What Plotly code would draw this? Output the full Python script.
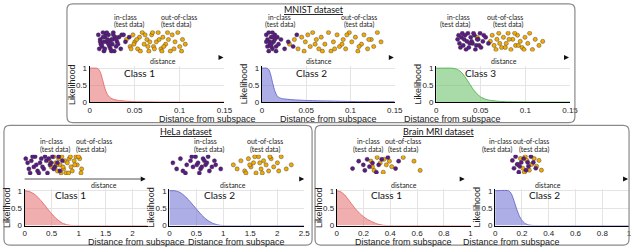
import plotly.graph_objects as go

W, H = 640, 252

# ---------------- data ----------------
# likelihood curves
m1_x = [0, 0.008, 0.010, 0.012, 0.014, 0.016, 0.018, 0.020, 0.023, 0.027, 0.032, 0.040, 0.050, 0.060, 0.080, 0.150]
m1_y = [1, 1, 0.97, 0.88, 0.70, 0.50, 0.33, 0.22, 0.13, 0.08, 0.05, 0.03, 0.015, 0.008, 0.002, 0]
m2_x = [0, 0.006, 0.008, 0.010, 0.012, 0.014, 0.016, 0.018, 0.022, 0.027, 0.035, 0.050, 0.070, 0.090, 0.110, 0.150]
m2_y = [1, 1, 0.95, 0.80, 0.58, 0.38, 0.24, 0.16, 0.11, 0.09, 0.07, 0.05, 0.035, 0.025, 0.015, 0.01]
m3_x = [0, 0.018, 0.022, 0.026, 0.030, 0.034, 0.038, 0.042, 0.046, 0.050, 0.055, 0.060, 0.070, 0.080, 0.100, 0.150]
m3_y = [1, 1, 0.98, 0.93, 0.83, 0.68, 0.52, 0.36, 0.24, 0.15, 0.09, 0.055, 0.025, 0.01, 0.003, 0]
h1_x = [0, 0.1, 0.2, 0.3, 0.4, 0.5, 0.6, 0.7, 0.8, 0.9, 2.28]
h1_y = [1, 0.97, 0.88, 0.72, 0.53, 0.34, 0.18, 0.07, 0.02, 0, 0]
h2_x = [0, 0.1, 0.2, 0.3, 0.4, 0.5, 0.6, 0.7, 0.8, 0.9, 1.0, 2.5]
h2_y = [1, 1, 0.95, 0.83, 0.66, 0.48, 0.30, 0.16, 0.07, 0.02, 0, 0]
b1_x = [0, 0.03, 0.06, 0.10, 0.14, 0.18, 0.22, 0.26, 0.30, 0.35, 0.40, 1.0]
b1_y = [1, 0.97, 0.88, 0.68, 0.48, 0.32, 0.20, 0.12, 0.05, 0.01, 0, 0]
b2_x = [0, 0.10, 0.12, 0.14, 0.16, 0.18, 0.20, 0.22, 0.25, 0.30, 1.0]
b2_y = [1, 1, 0.92, 0.72, 0.48, 0.28, 0.15, 0.07, 0.02, 0, 0]

# scatter (test data) points, arbitrary distance units
s1_in_x = [3,5,6,8,10,12,14,15,17,19,21,23,4,7,9,11,13,16,18,20,22,25,5,8,10,12,15,17,19,24,28,32,36,6,9,14,18,22,27,30]
s1_in_y = [8,6,4,9,7,5,8,3,6,9,7,5,2,3,1,8,6,2,4,1,3,7,5,7,2,9,5,1,8,4,8,5,7,4,5,4,6,6,2,8]
s1_out_x = [33,37,40,42,45,47,50,52,55,57,60,62,65,67,70,72,75,78,80,82,85,88,90,93,96,38,44,48,53,58,63,68,73,77,84,92,41,56,61,71]
s1_out_y = [6,3,8,5,2,7,9,4,6,1,8,3,5,9,2,7,4,6,1,8,5,9,3,6,4,2,6,1,8,5,2,6,3,9,2,1,4,3,9,1]
s2_in_x = [2,3,4,5,6,7,8,9,10,3,5,7,9,11,4,6,8,10,12,2,6,14,17,20,24,27]
s2_in_y = [8,6,9,4,7,2,5,8,3,3,5,9,6,7,1,3,7,1,4,5,4,6,2,5,3,8]
s2_out_x = [21,25,28,31,34,36,38,40,43,45,47,50,53,55,57,60,62,65,67,70,72,75,77,80,82,85,88,90,93,96,42,58,68,78,86,33,48,64]
s2_out_y = [4,6,2,7,5,8,3,9,6,2,7,4,9,1,5,8,3,6,2,9,5,7,1,4,8,2,6,3,9,5,4,2,8,3,6,1,1,4]
s3_in_x = [3,5,7,9,11,13,15,17,19,21,23,25,27,30,33,36,6,10,14,18,22,26,8,12,16,20,24,4,28,31]
s3_in_y = [6,4,7,3,8,5,2,7,4,8,3,6,9,5,7,4,2,6,9,5,1,3,9,1,4,9,6,8,2,8]
s3_out_x = [38,40,42,45,47,50,52,55,57,60,62,65,67,70,72,75,78,80,83,86,90,94,44,54,64,74,58,68,48,24]
s3_out_y = [5,8,3,6,9,2,7,4,9,1,6,3,8,5,2,7,4,9,1,6,3,5,1,2,9,1,6,3,4,7]
s4_in_x = [5,8,10,14,18,20,24,28,30,34,38,40,44,48,52,56,60,64,12,22,32,42,50,58,16,26,36,46]
s4_in_y = [8,6,3,7,4,9,2,6,8,3,7,1,5,9,4,6,2,7,1,5,4,8,3,9,9,1,9,6]
s4_out_x = [43,46,50,53,56,58,60,63,66,68,70,72,75,78,80,83,86,88,92,95,62,74,84,90,55,65,77,94]
s4_out_y = [7,4,9,6,2,8,5,9,3,7,1,6,8,4,2,7,9,5,8,3,1,1,5,9,5,4,9,1]
s5_in_x = [2,5,8,10,13,16,18,20,22,24,26,28,30,33,36,40,12,17,23,27,31,35,21,25,29]
s5_in_y = [6,3,8,2,5,7,4,9,6,3,8,5,9,4,5,3,1,9,1,7,2,7,5,4,6]
s5_out_x = [50,53,56,59,62,64,66,68,70,72,74,76,78,80,82,85,88,92,96,60,67,73,79,86,63,71]
s5_out_y = [5,3,7,2,8,4,6,1,9,3,7,5,2,8,4,6,9,3,5,1,9,1,9,2,5,6]
s6_in_x = [4,12,18,20,23,26,30,35,42,50,60,64,38]
s6_in_y = [3,7,5,2,8,4,6,1,8,9,3,7,5]
s6_out_x = [28,32,36,40,45,48,52,55,70,84,92,30,44]
s6_out_y = [7,2,9,6,8,5,7,4,9,7,2,4,1]
s7_in_x = [6,10,14,18,22,28,34,40,46,52,58,64,24,44]
s7_in_y = [7,3,9,5,1,6,8,2,4,9,6,3,4,6]
s7_out_x = [20,26,32,38,42,48,54,60,66,72,78,36]
s7_out_y = [5,8,3,9,7,2,5,8,4,7,2,1]

class_labels = ["Class 1", "Class 2", "Class 3", "Class 1", "Class 2", "Class 1", "Class 2"]
dataset_titles = ["MNIST dataset", "HeLa dataset", "Brain MRI dataset"]
mnist_ticks = [0, 0.05, 0.1, 0.15]
hela1_ticks = [0, 0.5, 1, 1.5, 2]
hela2_ticks = [0, 0.5, 1, 1.5, 2, 2.5]
brain_ticks = [0, 0.2, 0.4, 0.6, 0.8, 1]
y_ticks = [0, 0.5, 1]

# ---------------- layout helpers ----------------
def fx(x):
    return x / W

def fy(y):
    return 1 - y / H

RED = ("rgba(232,120,120,0.6)", "#e07272")
BLUE = ("rgba(120,120,215,0.6)", "#7070cc")
GREEN = ("rgba(110,195,110,0.6)", "#5eb45e")
PURPLE = "#5b1a86"
ORANGE = "#f2a900"

curves = [
    (m1_x, m1_y, RED, (89, 226, 66, 103), [0, 0.15], mnist_ticks, ["0", "0.05", "0.1", "0.15"]),
    (m2_x, m2_y, BLUE, (264, 399, 66, 103), [0, 0.15], mnist_ticks, ["0", "0.05", "0.1", "0.15"]),
    (m3_x, m3_y, GREEN, (441, 577, 66, 103), [0, 0.15], mnist_ticks, ["0", "0.05", "0.1", "0.15"]),
    (h1_x, h1_y, RED, (23, 148, 192, 230), [0, 2.28], hela1_ticks, ["0", "0.5", "1", "1.5", "2"]),
    (h2_x, h2_y, BLUE, (170, 307, 192, 230), [0, 2.5], hela2_ticks, ["0", "0.5", "1", "1.5", "2", "2.5"]),
    (b1_x, b1_y, RED, (340, 476, 192, 230), [0, 1], brain_ticks, ["0", "0.2", "0.4", "0.6", "0.8", "1"]),
    (b2_x, b2_y, BLUE, (501, 637, 192, 230), [0, 1], brain_ticks, ["0", "0.2", "0.4", "0.6", "0.8", "1"]),
]

scatters = [
    (s1_in_x, s1_in_y, s1_out_x, s1_out_y, (95, 190, 29, 53)),
    (s2_in_x, s2_in_y, s2_out_x, s2_out_y, (266, 390, 29, 53)),
    (s3_in_x, s3_in_y, s3_out_x, s3_out_y, (460, 555, 30, 51)),
    (s4_in_x, s4_in_y, s4_out_x, s4_out_y, (21, 84, 157, 178)),
    (s5_in_x, s5_in_y, s5_out_x, s5_out_y, (171, 299, 157, 178)),
    (s6_in_x, s6_in_y, s6_out_x, s6_out_y, (353, 431, 158, 177)),
    (s7_in_x, s7_in_y, s7_out_x, s7_out_y, (516, 557, 157, 177)),
]

fig = go.Figure()
layout = {}
annotations = []
shapes = []

AXFONT = dict(family="Liberation Sans, Arial, sans-serif", size=8, color="#222")
TXT = "Lato, Open Sans, sans-serif"

n = 0
for i, (cx, cy, col, box, xr, tv, tt) in enumerate(curves):
    n += 1
    sfx = "" if n == 1 else str(n)
    l, r, t, b = box
    fig.add_trace(go.Scatter(x=cx, y=cy, mode="lines", line=dict(color=col[1], width=1, shape="spline", smoothing=0.6),
                             fill="tozeroy", fillcolor=col[0], xaxis="x" + sfx, yaxis="y" + sfx,
                             showlegend=False, hoverinfo="skip"))
    layout["xaxis" + sfx] = dict(domain=[fx(l), fx(r)], anchor="y" + sfx, range=xr, tickvals=tv, ticktext=tt,
                                 showgrid=True, gridcolor="#e4e4e4", gridwidth=1, zeroline=False,
                                 showline=True, linecolor="#000", linewidth=1, ticks="", tickfont=AXFONT,
                                 fixedrange=True)
    layout["yaxis" + sfx] = dict(domain=[fy(b), fy(t)], anchor="x" + sfx, range=[0, 1.06], tickvals=y_ticks,
                                 ticktext=["0", "0.5", "1"], showgrid=True, gridcolor="#e4e4e4", zeroline=False,
                                 showline=True, linecolor="#000", linewidth=1, ticks="", tickfont=AXFONT,
                                 fixedrange=True)
    # class label
    annotations.append(dict(x=fx(l + 0.37 * (r - l) if i != 2 else l + 0.33 * (r - l)), y=fy(t + 7),
                            xref="paper", yref="paper", text=class_labels[i], showarrow=False,
                            font=dict(family=TXT, size=10, color="#111"), xanchor="center", yanchor="middle"))
    # axis titles
    annotations.append(dict(x=fx((l + r) / 2), y=fy(b + 17), xref="paper", yref="paper",
                            text="Distance from subspace", showarrow=False,
                            font=dict(family=AXFONT["family"], size=9, color="#222"), yanchor="middle"))
    annotations.append(dict(x=fx(l - 18), y=fy((t + b) / 2), xref="paper", yref="paper",
                            text="Likelihood", showarrow=False, textangle=-90,
                            font=dict(family=AXFONT["family"], size=9, color="#222"), xanchor="center", yanchor="middle"))

for j, (ix, iy, ox, oy, box) in enumerate(scatters):
    n += 1
    sfx = str(n)
    l, r, t, b = box
    for xs, ys, c in ((ox, oy, ORANGE), (ix, iy, PURPLE)):
        fig.add_trace(go.Scatter(x=xs, y=ys, mode="markers",
                                 marker=dict(color=c, size=4.2, line=dict(color="#333", width=0.4)),
                                 xaxis="x" + sfx, yaxis="y" + sfx, showlegend=False, hoverinfo="skip"))
    layout["xaxis" + sfx] = dict(domain=[fx(l), fx(r)], anchor="y" + sfx, range=[0, 100], visible=False, fixedrange=True)
    layout["yaxis" + sfx] = dict(domain=[fy(b), fy(t)], anchor="x" + sfx, range=[0, 10], visible=False, fixedrange=True)

# in-class / out-of-class labels: (x_in, x_out, y_top)
label_pos = [(112, 159, 15), (282, 363, 15), (477, 531, 15),
             (37, 73, 143), (193, 267, 143), (372, 407, 143), (520, 558, 143)]
for (xi, xo, yt) in label_pos:
    for xx, lab in ((xi, "in-class"), (xo, "out-of-class")):
        annotations.append(dict(x=fx(xx), y=fy(yt), xref="paper", yref="paper", text=lab, showarrow=False,
                                font=dict(family=TXT, size=7, color="#222"), yanchor="middle"))
        annotations.append(dict(x=fx(xx), y=fy(yt + 8.5), xref="paper", yref="paper", text="(test data)",
                                showarrow=False, font=dict(family=TXT, size=7, color="#222"), yanchor="middle"))

# distance arrows: (label x, arrow end x, y)
arrows = [(148, 225, 57, 61), (322, 398, 57, 61), (525, 576, 57, 61),
          (88, 146, 182, 188), (235, 307, 182, 188), (408, 470, 182, 188), (570, 636, 182, 188)]
for (lx, ex, ay, ly) in arrows:
    annotations.append(dict(x=fx(lx), y=fy(ly), xref="paper", yref="paper", text="distance", showarrow=False,
                            font=dict(family=TXT, size=7, color="#222"), yanchor="middle"))
    annotations.append(dict(x=fx(ex), y=fy(ay), xref="paper", yref="paper", text="", showarrow=True,
                            ax=-5, ay=0, arrowhead=2, arrowsize=1, arrowwidth=1, arrowcolor="#111"))
# grey shaft of HeLa class 1 arrow
shapes.append(dict(type="line", xref="paper", yref="paper", x0=fx(23), x1=fx(143), y0=fy(182), y1=fy(182),
                   line=dict(color="#a8a8a8", width=2)))

# dataset boxes
def rrect(x0, y0, x1, y1, r=6):
    p = lambda x, y: f"{fx(x):.5f},{fy(y):.5f}"
    return (f"M {p(x0 + r, y0)} L {p(x1 - r, y0)} Q {p(x1, y0)} {p(x1, y0 + r)} "
            f"L {p(x1, y1 - r)} Q {p(x1, y1)} {p(x1 - r, y1)} L {p(x0 + r, y1)} "
            f"Q {p(x0, y1)} {p(x0, y1 - r)} L {p(x0, y0 + r)} Q {p(x0, y0)} {p(x0 + r, y0)} Z")

for (x0, y0, x1, y1) in [(66, 2, 582, 124), (2, 127, 315, 250), (318, 127, 637, 250)]:
    shapes.append(dict(type="path", xref="paper", yref="paper", path=rrect(x0, y0, x1, y1),
                       line=dict(color="#8a8a8a", width=1.2)))

for (tx, ty, tt) in [(317, 8, dataset_titles[0]), (158, 133, dataset_titles[1]), (482, 133, dataset_titles[2])]:
    annotations.append(dict(x=fx(tx), y=fy(ty), xref="paper", yref="paper", text="<u>" + tt + "</u>",
                            showarrow=False, font=dict(family=TXT, size=9, color="#111"), yanchor="middle"))

fig.update_layout(**layout)
fig.update_layout(width=W, height=H, margin=dict(l=0, r=0, t=0, b=0), autosize=False,
                  paper_bgcolor="white", plot_bgcolor="white", annotations=annotations, shapes=shapes)
fig.write_html("out.html", config={"displayModeBar": False, "staticPlot": True},
               post_script="document.body.style.margin='0px';document.body.style.overflow='hidden';")
